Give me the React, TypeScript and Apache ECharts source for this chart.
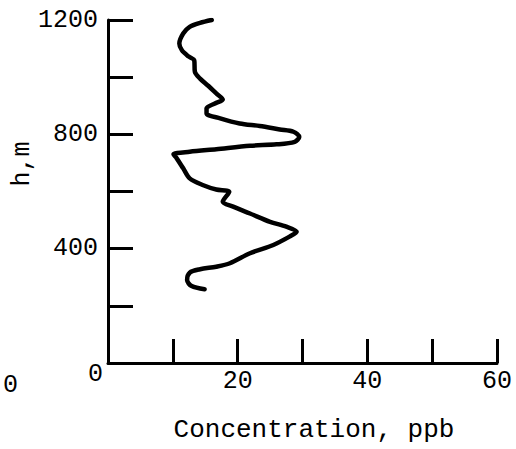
import React, { useEffect, useRef } from "react";
import * as echarts from "echarts";

const concentration = [16.0, 14.2, 12.6, 11.6, 11.0, 11.4, 12.4, 13.3, 13.4, 14.2, 15.5, 16.7, 17.7, 16.5, 15.2, 15.2, 17.3, 20.3, 23.4, 26.5, 28.6, 29.5, 28.8, 26.0, 21.9, 16.7, 12.6, 10.1, 10.6, 11.6, 12.6, 14.7, 16.7, 18.7, 17.7, 19.3, 21.9, 25.0, 27.5, 29.1, 28.0, 25.5, 21.9, 18.8, 16.7, 14.2, 12.6, 12.2, 12.9, 14.9];
const height = [1200, 1190, 1176, 1153, 1118, 1094, 1073, 1059, 1019, 995, 969, 943, 922, 908, 891, 873, 856, 838, 829, 817, 809, 791, 774, 765, 760, 748, 739, 730, 716, 681, 646, 622, 607, 599, 564, 547, 523, 494, 477, 459, 442, 413, 384, 349, 337, 328, 316, 290, 269, 258];
const xLabels = [20, 40, 60];
const yLabels = [400, 800, 1200];
const xTitle = "Concentration, ppb";
const yTitle = "h,m";

const FONT = "Liberation Mono";

export default function App() {
  const ref = useRef<HTMLDivElement>(null);
  useEffect(() => {
    if (!ref.current) return;
    const chart = echarts.init(ref.current, null, { renderer: "svg" });
    const data = concentration.map((c, i) => [c, height[i]]);
    chart.setOption({
      animation: false,
      backgroundColor: "#ffffff",
      grid: { left: 108, top: 20, right: 19, bottom: 86 },
      xAxis: {
        type: "value",
        min: 0,
        max: 60,
        interval: 10,
        splitLine: { show: false },
        axisLine: { show: true, lineStyle: { color: "#000", width: 3 } },
        axisTick: { show: true, inside: true, length: 24, lineStyle: { color: "#000", width: 3 } },
        axisLabel: {
          color: "#000",
          fontFamily: FONT,
          fontSize: 25,
          margin: 6,
          formatter: (v: number) => (xLabels.includes(v) ? String(v) : ""),
        },
      },
      yAxis: {
        type: "value",
        min: 0,
        max: 1200,
        interval: 200,
        splitLine: { show: false },
        axisLine: { show: true, lineStyle: { color: "#000", width: 3 } },
        axisTick: { show: true, inside: true, length: 25, lineStyle: { color: "#000", width: 3 } },
        axisLabel: {
          color: "#000",
          fontFamily: FONT,
          fontSize: 25,
          margin: 10,
          formatter: (v: number) => (yLabels.includes(v) ? String(v) : ""),
        },
      },
      graphic: [
        { type: "text", left: 88, top: 362, style: { text: "0", fontFamily: FONT, fontSize: 25, fill: "#000" } },
        { type: "text", left: 3, top: 373, style: { text: "0", fontFamily: FONT, fontSize: 25, fill: "#000" } },
        {
          type: "text",
          x: 314,
          y: 430,
          style: { text: xTitle, fontFamily: FONT, fontSize: 26, fill: "#000", align: "center", verticalAlign: "middle" },
        },
        {
          type: "text",
          x: 22,
          y: 164,
          rotation: Math.PI / 2,
          style: { text: yTitle, fontFamily: FONT, fontSize: 25, fill: "#000", align: "center", verticalAlign: "middle" },
        },
      ],
      series: [
        {
          type: "line",
          data,
          showSymbol: false,
          smooth: 0.3,
          lineStyle: { color: "#000", width: 4.5, cap: "round", join: "round" },
        },
      ],
    });
    return () => chart.dispose();
  }, []);
  return <div ref={ref} style={{ position: "fixed", left: 0, top: 0, width: 516, height: 449 }} />;
}
